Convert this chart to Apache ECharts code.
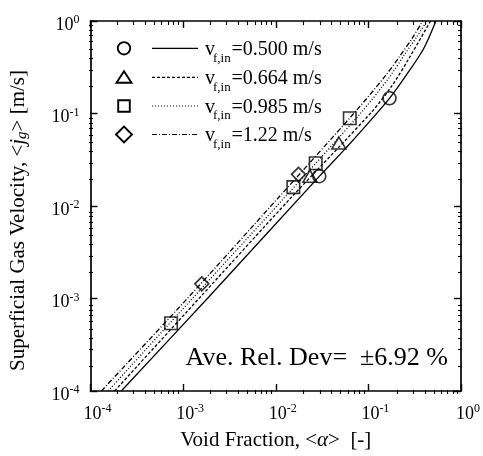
<!DOCTYPE html>
<html>
<head>
<meta charset="utf-8">
<script src="https://cdn.jsdelivr.net/npm/echarts@6/dist/echarts.min.js"></script>
<style>
  html, body { margin: 0; padding: 0; background: #fff; }
  #chart { width: 483px; height: 456px; }
</style>
</head>
<body>
<div id="chart"></div>
<script>
// Superficial gas velocity against void fraction for four inlet liquid velocities:
// measured points (open symbols) and the correlation curves (lines).

// Inlet liquid velocities, m/s
const liquidVelocities = ['0.500', '0.664', '0.985', '1.22'];

// Measured data
const alphaExp050 = [0.0295, 0.169];
const jgExp050    = [0.021, 0.146];
const alphaExp066 = [0.0234, 0.048];
const jgExp066    = [0.021, 0.048];
const alphaExp099 = [0.00074, 0.0155, 0.027, 0.063];
const jgExp099    = [0.00054, 0.016, 0.029, 0.089];
const alphaExp122 = [0.00159, 0.0176];
const jgExp122    = [0.00144, 0.022];

// Correlation curves
const alphaFit050 = [2.15e-4, 1.86e-3, 0.0295, 0.058, 0.169, 0.277, 0.385, 0.45, 0.536];
const jgFit050    = [1.0e-4, 1.02e-3, 0.0209, 0.043, 0.146, 0.29, 0.48, 0.66, 1.0];
const alphaFit066 = [1.82e-4, 1.51e-3, 0.0143, 0.1076, 0.18, 0.2767, 0.469];
const jgFit066    = [1.0e-4, 1.02e-3, 0.012, 0.103, 0.2, 0.4, 1.0];
const alphaFit099 = [1.55e-4, 1.28e-3, 0.01213, 0.084, 0.17, 0.245, 0.335, 0.429];
const jgFit099    = [1.0e-4, 1.02e-3, 0.012, 0.103, 0.25, 0.432, 0.68, 1.0];
const alphaFit122 = [1.31e-4, 1.13e-3, 0.01045, 0.0713, 0.15, 0.216, 0.3, 0.386];
const jgFit122    = [1.0e-4, 1.02e-3, 0.012, 0.103, 0.25, 0.41, 0.66, 1.0];

// Axis decades and their exponent labels
const tickValues = [1e-4, 1e-3, 1e-2, 1e-1, 1];
const tickExponents = ['-4', '-3', '-2', '-1', '0'];

const avgRelDev = '6.92';

const FONT = "'Liberation Serif', 'Times New Roman', serif";

// Minor ticks at 2..9 within each decade, placed on exponent (log10) scale axes
const minorExponents = [];
for (let d = -4; d < 0; d++) {
  for (let m = 2; m <= 9; m++) minorExponents.push(d + Math.log10(m));
}

function pairs(xs, ys) { return xs.map((x, i) => [x, ys[i]]); }

function powerLabel(v) {
  const idx = Math.round(Math.log10(v)) + 4;
  return '{b|10}{s|' + tickExponents[idx] + '}';
}

const labelRich = {
  b: { fontFamily: FONT, fontSize: 18, color: '#000', padding: [8, 0, 0, 0], verticalAlign: 'middle' },
  s: { fontFamily: FONT, fontSize: 12, color: '#000', padding: [0, 0, 2, 0], verticalAlign: 'middle' }
};

// Grid 0 carries the data and the decade ticks, grid 1 (same box) the minor ticks
function mainAxis(position, withLabels, extra) {
  return Object.assign({
    gridIndex: 0, type: 'log', logBase: 10, min: 1e-4, max: 1, position: position,
    axisLine: { show: true, onZero: false, lineStyle: { color: '#000', width: 1.7 } },
    axisTick: { show: true, inside: true, length: 7, lineStyle: { color: '#000', width: 1.4 } },
    axisLabel: withLabels
      ? { show: true, formatter: powerLabel, rich: labelRich }
      : { show: false },
    splitLine: { show: false },
    minorTick: { show: false }
  }, extra || {});
}

function minorAxis(position) {
  return {
    gridIndex: 1, type: 'value', min: -4, max: 0, position: position,
    axisLine: { show: false, onZero: false },
    axisTick: { show: true, inside: true, length: 4, customValues: minorExponents,
                lineStyle: { color: '#000', width: 1.1 } },
    axisLabel: { show: false },
    splitLine: { show: false }
  };
}

const xAxes = [
  mainAxis('bottom', true, {
    name: '{n|Void Fraction, <}{i|α}{n|>  [-]}',
    nameLocation: 'middle', nameGap: 39,
    nameTextStyle: { rich: {
      n: { fontFamily: FONT, fontSize: 21, color: '#000' },
      i: { fontFamily: FONT, fontSize: 21, fontStyle: 'italic', color: '#000' }
    } }
  }),
  mainAxis('top', false),
  minorAxis('bottom'),
  minorAxis('top')
];
xAxes[0].axisLabel.margin = 6;
xAxes[0].axisLabel.padding = [0, 0, 0, 14];

const yAxes = [
  mainAxis('left', true, {
    name: '{n|Superficial Gas Velocity, <}{i|j}{g|g}{n|> [m/s]}',
    nameLocation: 'middle', nameGap: 61, nameRotate: 90,
    nameTextStyle: { padding: [0, 29, 0, 0], rich: {
      n: { fontFamily: FONT, fontSize: 21, color: '#000' },
      i: { fontFamily: FONT, fontSize: 21, fontStyle: 'italic', color: '#000' },
      g: { fontFamily: FONT, fontSize: 15, fontStyle: 'italic', color: '#000', padding: [7, 0, 0, 0] }
    } }
  }),
  mainAxis('right', false),
  minorAxis('left'),
  minorAxis('right')
];
yAxes[0].axisLabel.margin = 11;

const lineDashes = ['solid', [3, 2], [1, 2], [5, 2, 1, 2]];
const fitSets = [
  [alphaFit050, jgFit050], [alphaFit066, jgFit066],
  [alphaFit099, jgFit099], [alphaFit122, jgFit122]
];
const expSets = [
  [alphaExp050, jgExp050], [alphaExp066, jgExp066],
  [alphaExp099, jgExp099], [alphaExp122, jgExp122]
];
const symbols = ['circle', 'triangle', 'rect', 'diamond'];
const symbolSizes = [13, [14, 12], 12.5, 14];

const series = [];
fitSets.forEach((set, i) => {
  series.push({
    name: 'fit ' + liquidVelocities[i], type: 'line', xAxisIndex: 0, yAxisIndex: 0,
    data: pairs(set[0], set[1]), symbol: 'none', showSymbol: false,
    smooth: 0.3, silent: true, z: 2,
    lineStyle: { color: '#000', width: 1.3, type: lineDashes[i] }
  });
});
expSets.forEach((set, i) => {
  series.push({
    name: 'exp ' + liquidVelocities[i], type: 'scatter', xAxisIndex: 0, yAxisIndex: 0,
    data: pairs(set[0], set[1]), symbol: symbols[i], symbolSize: symbolSizes[i],
    silent: true, z: 3,
    itemStyle: { color: 'rgba(0,0,0,0)', borderColor: '#000', borderWidth: 1.6 }
  });
});

// Legend: open symbol, line sample and label on each row
const rowY = [48.3, 77.3, 106, 134.5];
const mk = { fill: 'none', stroke: '#000', lineWidth: 1.9 };
const graphics = [
  { type: 'circle', shape: { cx: 124, cy: rowY[0], r: 6.2 }, style: mk },
  { type: 'polygon', shape: { points: [[116.5, rowY[1] + 5.5], [131.5, rowY[1] + 5.5], [124, rowY[1] - 6]] }, style: mk },
  { type: 'rect', shape: { x: 118.2, y: rowY[2] - 5.8, width: 11.6, height: 11.6 }, style: mk },
  { type: 'polygon', shape: { points: [[116, rowY[3]], [124, rowY[3] - 8], [132, rowY[3]], [124, rowY[3] + 8]] }, style: mk }
];
rowY.forEach((y, i) => {
  graphics.push({
    type: 'line', shape: { x1: 152, y1: y, x2: 198, y2: y },
    style: { stroke: '#000', lineWidth: 1.2, lineDash: lineDashes[i] === 'solid' ? null : lineDashes[i] }
  });
  graphics.push({
    type: 'text', x: 205, y: y + 1.5,
    style: { text: 'v', font: '20px ' + FONT, fill: '#000', align: 'left', verticalAlign: 'middle',
             textAlign: 'left', textVerticalAlign: 'middle' }
  });
  graphics.push({
    type: 'text', x: 213, y: y + 10,
    style: { text: 'f,in', font: '13px ' + FONT, fill: '#000', align: 'left', verticalAlign: 'middle',
             textAlign: 'left', textVerticalAlign: 'middle' }
  });
  graphics.push({
    type: 'text', x: 231.5, y: y + 1.5,
    style: { text: '=' + liquidVelocities[i] + ' m/s', font: '20px ' + FONT, fill: '#000',
             align: 'left', verticalAlign: 'middle', textAlign: 'left', textVerticalAlign: 'middle' }
  });
});
graphics.push({
  type: 'text', x: 448, y: 358,
  style: { text: 'Ave. Rel. Dev=  \u00b1' + avgRelDev + ' %', font: '26px ' + FONT, fill: '#000',
           align: 'right', verticalAlign: 'middle', textAlign: 'right', textVerticalAlign: 'middle' }
});

const gridBox = { left: 89, right: 21, top: 21, bottom: 62, containLabel: false };
const chart = echarts.init(document.getElementById('chart'));
chart.setOption({
  animation: false,
  backgroundColor: '#fff',
  grid: [Object.assign({}, gridBox), Object.assign({}, gridBox)],
  xAxis: xAxes,
  yAxis: yAxes,
  series: series,
  graphic: graphics
});
</script>
</body>
</html>
